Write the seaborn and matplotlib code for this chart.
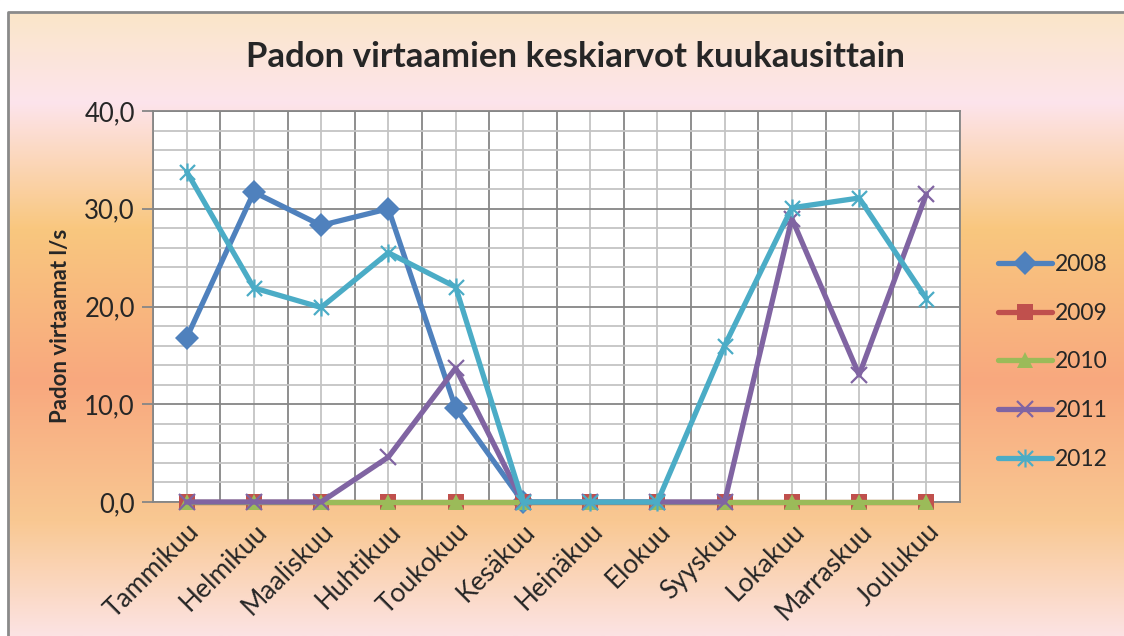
import numpy as np
import pandas as pd
import matplotlib
matplotlib.use("Agg")
import matplotlib.pyplot as plt
from matplotlib.path import Path
from matplotlib.patches import Rectangle
from matplotlib.colors import LinearSegmentedColormap
from matplotlib.ticker import MultipleLocator, FixedLocator, FuncFormatter
import seaborn as sns

months = ["Tammikuu", "Helmikuu", "Maaliskuu", "Huhtikuu", "Toukokuu", "Kesäkuu",
          "Heinäkuu", "Elokuu", "Syyskuu", "Lokakuu", "Marraskuu", "Joulukuu"]
years = ["2008", "2009", "2010", "2011", "2012"]
v2008 = [16.8, 31.7, 28.3, 30.0, 9.6, 0.0, np.nan, np.nan, np.nan, np.nan, np.nan, np.nan]
v2009 = [0.0] * 12
v2010 = [0.0] * 12
v2011 = [0.0, 0.0, 0.0, 4.6, 13.7, 0.0, 0.0, 0.0, 0.0, 29.0, 13.0, 31.5]
v2012 = [33.8, 21.9, 19.9, 25.5, 22.0, 0.0, 0.0, 0.0, 16.0, 30.1, 31.1, 20.8]
series = [v2008, v2009, v2010, v2011, v2012]

title = "Padon virtaamien keskiarvot kuukausittain"
ylabel = "Padon virtaamat l/s"

sns.set_theme(style="white")
plt.rcParams["font.family"] = ["Lato", "DejaVu Sans"]

colors = ["#4F81BD", "#C0504D", "#9BBB59", "#8064A2", "#4BACC6"]
asterisk = Path([(-1, -1), (1, 1), (-1, 1), (1, -1), (0, -1.2), (0, 1.2)],
                [Path.MOVETO, Path.LINETO, Path.MOVETO, Path.LINETO, Path.MOVETO, Path.LINETO])
markers = ["D", "s", "^", "x", asterisk]
msizes = [12, 11, 12, 12, 13]

fig = plt.figure(figsize=(11.24, 6.36), dpi=100)

# background gradient
bg = fig.add_axes([0, 0, 1, 1], zorder=-10)
cmap = LinearSegmentedColormap.from_list("bg", [
    (0.0, "#FAE6C4"), (0.16, "#FDE4EC"), (0.36, "#F9C77E"),
    (0.60, "#F8A87E"), (0.82, "#F9C892"), (1.0, "#FCE3E3")])
grad = np.linspace(0, 1, 256).reshape(-1, 1)
bg.imshow(grad, aspect="auto", cmap=cmap, extent=[0, 1, 0, 1], origin="upper")
bg.add_patch(Rectangle((0, 0.981), 1, 0.019, color="white", transform=bg.transAxes, zorder=2))
bg.add_patch(Rectangle((0, 0), 0.007, 1, color="white", transform=bg.transAxes, zorder=2))
bg.plot([0.0075, 0.0075, 1.0], [0.0, 0.981, 0.981], color="#8A8A8A", lw=2, transform=bg.transAxes, zorder=3)
bg.set_xlim(0, 1); bg.set_ylim(0, 1)
bg.axis("off")

ax = fig.add_axes([153 / 1124, 1 - 502 / 636, 807 / 1124, 391 / 636])
ax.set_facecolor("white")

x = np.arange(len(months))
rows = []
for yr, vals in zip(years, series):
    for xi, v in zip(x, vals):
        rows.append({"x": xi, "value": v, "year": yr})
df = pd.DataFrame(rows)

for i, yr in enumerate(years):
    d = df[df["year"] == yr].dropna()
    sns.lineplot(data=d, x="x", y="value", ax=ax, color=colors[i], lw=3.8,
                 marker=markers[i], markersize=msizes[i], markeredgewidth=1.6 if i >= 3 else 0,
                 markeredgecolor=colors[i], label=yr, clip_on=False, zorder=5 + i,
                 solid_capstyle="round")

ax.set_xlim(-0.5, 11.5)
ax.set_ylim(0, 40)
ax.yaxis.set_major_locator(MultipleLocator(10))
ax.yaxis.set_minor_locator(MultipleLocator(2))
ax.yaxis.set_major_formatter(FuncFormatter(lambda v, p: f"{v:.1f}".replace(".", ",")))
ax.xaxis.set_major_locator(FixedLocator(x))
ax.xaxis.set_minor_locator(FixedLocator(np.arange(-0.5, 12, 1)))
ax.set_xticklabels(months, rotation=45, ha="right", rotation_mode="anchor", fontsize=19)

ax.yaxis.grid(True, which="major", color="#868686", lw=1.3, zorder=0)
ax.yaxis.grid(True, which="minor", color="#C4C4C4", lw=1.3, zorder=0)
ax.xaxis.grid(True, which="minor", color="#868686", lw=1.3, zorder=0)
ax.xaxis.grid(True, which="major", color="#C4C4C4", lw=1.3, zorder=0)
ax.set_axisbelow(True)

ax.tick_params(axis="y", which="major", length=8, width=1.3, color="#868686", labelsize=18.5, pad=5, left=True)
ax.tick_params(axis="y", which="minor", length=0)
ax.tick_params(axis="x", which="both", length=0, pad=12)
for s in ax.spines.values():
    s.set_color("#868686")
    s.set_linewidth(1.3)

ax.set_xlabel("")
ax.set_ylabel(ylabel, fontsize=16, fontweight="bold")
ax.yaxis.set_label_coords((71 - 153) / 807, (502 - 326) / 391)
fig.text(575 / 1124, 1 - 57 / 636, title, ha="center", va="center", fontsize=25, fontweight="bold")

leg = ax.legend(loc="center left", bbox_to_anchor=(998 / 1124, 1 - 362 / 636),
                bbox_transform=fig.transFigure, frameon=False, fontsize=16.5,
                handlelength=2.35, labelspacing=1.22, handletextpad=0.15,
                borderpad=0, borderaxespad=0)

fig.savefig("out.png", dpi=100)
